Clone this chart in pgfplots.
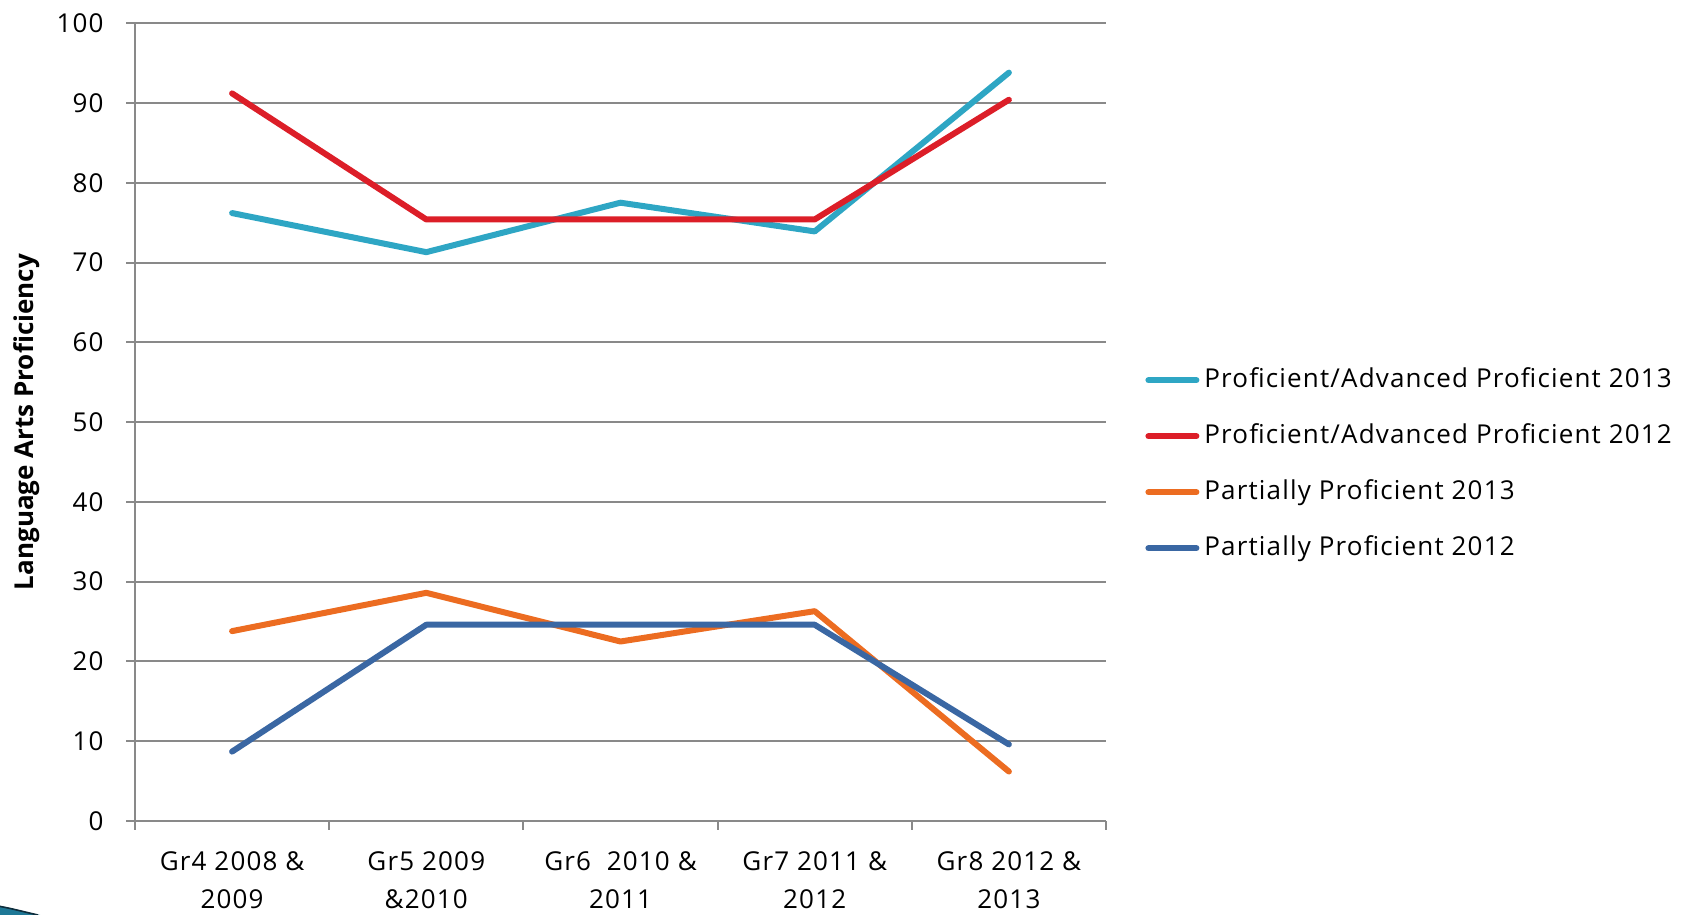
\documentclass[border=0pt]{standalone}
\usepackage{fontspec}
\setmainfont{Open Sans}[LetterSpace=4.5]
\newfontfamily\ylfont{Open Sans}
\usepackage{pgfplots}
\pgfplotsset{compat=1.18}
\definecolor{cPA13}{RGB}{46,166,196}
\definecolor{cPA12}{RGB}{220,30,40}
\definecolor{cPP13}{RGB}{236,108,33}
\definecolor{cPP12}{RGB}{58,103,163}
\definecolor{gridgray}{RGB}{137,137,137}
\definecolor{swoosh}{RGB}{30,120,150}
\definecolor{swooshedge}{RGB}{15,45,60}
\begin{document}
\begin{tikzpicture}
\path[use as bounding box] (0,0) rectangle (846pt,457.5pt);
\fill[swoosh] (0,0) -- (0,4.5pt) .. controls (7pt,3.2pt) and (13pt,1.5pt) .. (20pt,0) -- cycle;
\draw[swooshedge, line width=0.8pt] (0,4.3pt) .. controls (7pt,3.0pt) and (13pt,1.3pt) .. (19pt,0);
\begin{axis}[
  at={(67.5pt,47pt)}, anchor=south west,
  scale only axis, width=485.5pt, height=398.9pt,
  xmin=-0.5, xmax=4.5, ymin=0, ymax=100,
  axis x line*=bottom, axis y line*=left,
  axis line style={draw=gridgray, line width=1pt},
  tick style={draw=gridgray, line width=1pt},
  tick align=outside, major tick length=4.5pt,
  ytick={0,10,...,100},
  ymajorgrids, grid style={draw=gridgray, line width=1pt},
  xtick={-0.5,0.5,1.5,2.5,3.5,4.5}, xticklabels={},
  extra x ticks={0,1,2,3,4},
  extra x tick labels={{Gr4 2008 \&\\2009},{Gr5 2009\\\&2010},{Gr6~~2010 \&\\2011},{Gr7 2011 \&\\2012},{Gr8 2012 \&\\2013}},
  extra x tick style={major tick length=0pt},
  xticklabel style={align=center, font=\fontsize{13}{19}\selectfont, anchor=north, inner sep=0pt, yshift=-15pt},
  yticklabel style={font=\fontsize{13}{15}\selectfont, anchor=east, inner sep=0pt, xshift=-11pt},
  /pgf/number format/assume math mode=true,
  ylabel={\ylfont\bfseries Language Arts Proficiency},
  ylabel style={font=\fontsize{13}{15}\selectfont, at={(axis description cs:-0.112,0.5)}, anchor=center},
  legend style={at={(axis description cs:1.034,0.5715)}, anchor=north west, draw=none, fill=none,
    font=\fontsize{13}{15}\selectfont, row sep=16pt, column sep=2.5pt,
    nodes={inner sep=0pt, text height=9pt, text depth=3pt}},
  legend cell align=left,
  legend image code/.code={\draw[#1, line cap=round] (1.5pt,0.6pt) -- (25.5pt,0.6pt);},
]
\addplot[color=cPA13, line width=3pt, line join=round, line cap=round] coordinates {(0,76.2) (1,71.3) (2,77.5) (3,73.9) (4,93.8)};
\addlegendentry{Proficient/Advanced Proficient 2013}
\addplot[color=cPA12, line width=3pt, line join=round, line cap=round] coordinates {(0,91.2) (1,75.4) (2,75.4) (3,75.4) (4,90.4)};
\addlegendentry{Proficient/Advanced Proficient 2012}
\addplot[color=cPP13, line width=3pt, line join=round, line cap=round] coordinates {(0,23.8) (1,28.6) (2,22.5) (3,26.3) (4,6.2)};
\addlegendentry{Partially Proficient 2013}
\addplot[color=cPP12, line width=3pt, line join=round, line cap=round] coordinates {(0,8.7) (1,24.6) (2,24.6) (3,24.6) (4,9.6)};
\addlegendentry{Partially Proficient 2012}
\end{axis}
\end{tikzpicture}
\end{document}
